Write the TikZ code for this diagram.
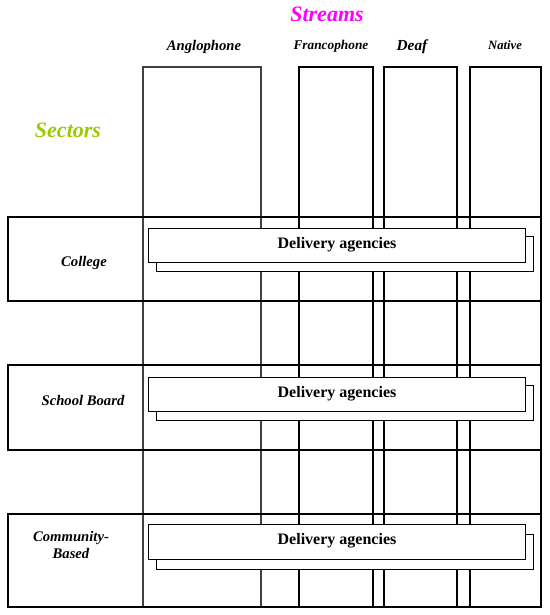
\documentclass[tikz,border=0pt]{standalone}
\usepackage{fontspec}
\setmainfont{Liberation Serif}
\definecolor{streamcol}{HTML}{FF00FF}
\definecolor{sectorcol}{HTML}{99CC00}
\begin{document}
\begin{tikzpicture}[x=0.75pt,y=-0.75pt,
		title/.style={font=\bfseries\itshape\fontsize{16.5}{18}\selectfont},
		head/.style={font=\bfseries\itshape\fontsize{#1}{12}\selectfont},
		sector/.style={font=\bfseries\itshape\fontsize{11}{13}\selectfont, align=center},
		column/.style={draw, line width=#1},
		rowbox/.style={draw, line width=1.4pt},
		agency/.style={draw, fill=white, line width=0.6pt, minimum width=283pt, minimum height=26pt,
			inner sep=0pt, font=\bfseries\fontsize{12}{14}\selectfont, text depth=4pt}]
		\useasboundingbox (0,0) rectangle (550,615);

		\node [title, text=streamcol] (streams) at (327,14) {Streams};
		\node [title, text=sectorcol] (sectors) at (68,130) {Sectors};

		\node [head=11]  (hAnglo)  at (204,47) {Anglophone};
		\node [head=10]  (hFranco) at (331,46) {Francophone};
		\node [head=11.5](hDeaf)   at (412,47) {Deaf};
		\node [head=9.5] (hNative) at (505,45) {Native};

		% streams
		\draw [column=0.8pt, draw=black!75] (143,67) rectangle (261,607);
		\draw [column=1pt]   (299,67) rectangle (373,607);
		\draw [column=1.4pt] (384,67) rectangle (457,607);
		\draw [column=1.4pt] (470,67) rectangle (541,607);

		% sectors
		\draw [rowbox] (8,217) rectangle (541,301);
		\draw [rowbox] (8,365) rectangle (541,450);
		\draw [rowbox] (8,514) rectangle (541,607);

		\node [sector] (college)   at (84,263) {College};
		\node [sector] (board)     at (83,400) {School Board};
		\node [sector] (community) at (71,545) {Community-\\Based};

		% delivery agencies
		\node [agency] (agCollegeB)   at (345,254) {};
		\node [agency] (agCollege)    at (337,245.5) {Delivery agencies};
		\node [agency] (agBoardB)     at (345,403) {};
		\node [agency] (agBoard)      at (337,394.5) {Delivery agencies};
		\node [agency] (agCommunityB) at (345,552) {};
		\node [agency] (agCommunity)  at (337,542) {Delivery agencies};
	\end{tikzpicture}
\end{document}
